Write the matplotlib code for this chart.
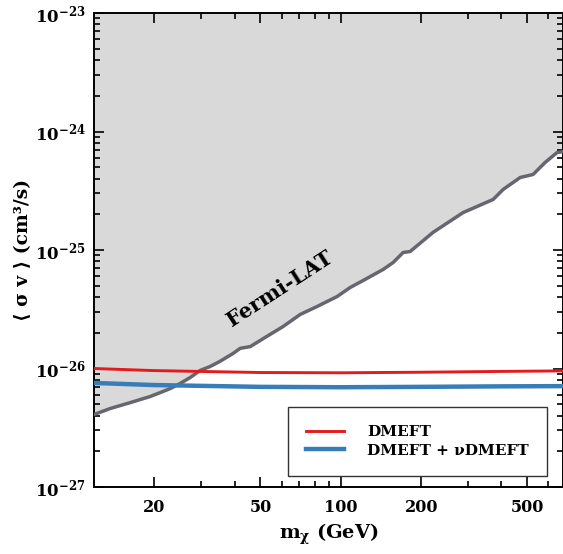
import numpy as np
import matplotlib
matplotlib.use('Agg')
import matplotlib.pyplot as plt
from matplotlib.ticker import LogLocator, FixedLocator, FuncFormatter, NullFormatter

plt.rcParams['font.family'] = ['DejaVu Serif', 'DejaVu Sans']
plt.rcParams['font.weight'] = 'bold'
plt.rcParams['mathtext.fontset'] = 'dejavuserif'
plt.rcParams['mathtext.default'] = 'bf'

# Fermi-LAT limit (GeV, cm^3/s)
fermi_m = [11.9, 13.7, 16.3, 19.3, 21.1, 23.0, 25.0, 27.3, 29.7, 32.4, 35.3, 39.5,
           42.0, 45.8, 52.1, 60.8, 70.5, 81.6, 96.9, 108.5, 121.3, 144.1, 157.1,
           171.3, 181.9, 221.8, 287.3, 372.2, 405.6, 469.8, 525.4, 582.8, 646.2, 690.0]
fermi_sv = [4.09e-27, 4.60e-27, 5.16e-27, 5.80e-27, 6.27e-27, 6.78e-27, 7.47e-27,
            8.40e-27, 9.62e-27, 1.04e-26, 1.15e-26, 1.34e-26, 1.48e-26, 1.53e-26,
            1.83e-26, 2.26e-26, 2.86e-26, 3.34e-26, 4.05e-26, 4.83e-26, 5.53e-26,
            6.85e-26, 7.84e-26, 9.53e-26, 9.71e-26, 1.41e-25, 2.07e-25, 2.67e-25,
            3.24e-25, 4.09e-25, 4.34e-25, 5.48e-25, 6.65e-25, 6.78e-25]

# model curves
model_m = [11.9, 20, 50, 100, 200, 400, 690]
dmeft_sv = [1.0e-26, 9.6e-27, 9.25e-27, 9.2e-27, 9.3e-27, 9.45e-27, 9.55e-27]
nudmeft_sv = [7.55e-27, 7.25e-27, 7.0e-27, 6.95e-27, 7.0e-27, 7.07e-27, 7.1e-27]

xticks = [20, 50, 100, 200, 500]
yticks = [1e-27, 1e-26, 1e-25, 1e-24, 1e-23]

fig = plt.figure(figsize=(5.63, 5.54), dpi=100)
ax = fig.add_axes([94/563, 1 - 487/554, (563 - 94)/563, (487 - 13)/554])

ax.set_xscale('log')
ax.set_yscale('log')
ax.set_xlim(11.9, 680)
ax.set_ylim(1e-27, 1e-23)

ax.fill_between(fermi_m, fermi_sv, 1e-23, color='#d9d9d9', lw=0, zorder=1)
ax.plot(fermi_m, fermi_sv, color='#66666e', lw=2.5, zorder=3)

ax.plot(model_m, dmeft_sv, color='#e41a1c', lw=2.1, zorder=4, label='DMEFT')
ax.plot(model_m, nudmeft_sv, color='#377eb8', lw=3.2, zorder=4,
        label='DMEFT + νDMEFT')

ax.text(59.3, 4.7e-26, 'Fermi-LAT', fontsize=15, fontweight='bold',
        rotation=33, ha='center', va='center', zorder=5)

ax.xaxis.set_major_locator(FixedLocator(xticks))
ax.xaxis.set_major_formatter(FuncFormatter(lambda v, p: '%d' % v))
ax.xaxis.set_minor_locator(LogLocator(base=10, subs=np.arange(2, 10)))
ax.xaxis.set_minor_formatter(NullFormatter())
ax.yaxis.set_major_locator(FixedLocator(yticks))
ax.yaxis.set_major_formatter(FuncFormatter(
    lambda v, p: r'$\mathbf{10^{%d}}$' % int(round(np.log10(v)))))
ax.yaxis.set_minor_locator(LogLocator(base=10, subs=np.arange(2, 10), numticks=20))
ax.yaxis.set_minor_formatter(NullFormatter())

ax.tick_params(which='both', direction='in', top=True, right=True, width=1.2)
ax.tick_params(which='major', length=7)
ax.tick_params(which='minor', length=4)
ax.tick_params(axis='x', labelsize=11.5, pad=9)
ax.tick_params(axis='y', labelsize=12, pad=6)
for s in ax.spines.values():
    s.set_linewidth(1.4)

ax.set_xlabel(r'm$_\chi$ (GeV)', fontsize=14, fontweight='bold', labelpad=4)
ax.set_ylabel('⟨ σ v ⟩ (cm³/s)', fontsize=13.5, fontweight='bold', labelpad=2)

leg = ax.legend(loc='lower right', bbox_to_anchor=(0.966, 0.023), fontsize=11,
                frameon=True, fancybox=False, edgecolor='#333333', framealpha=1,
                handlelength=2.5, borderpad=1.2, labelspacing=0.3, handletextpad=1.5,
                borderaxespad=0)
leg.get_frame().set_linewidth(1.0)
leg.set_zorder(6)

fig.savefig('out.png', dpi=100)
